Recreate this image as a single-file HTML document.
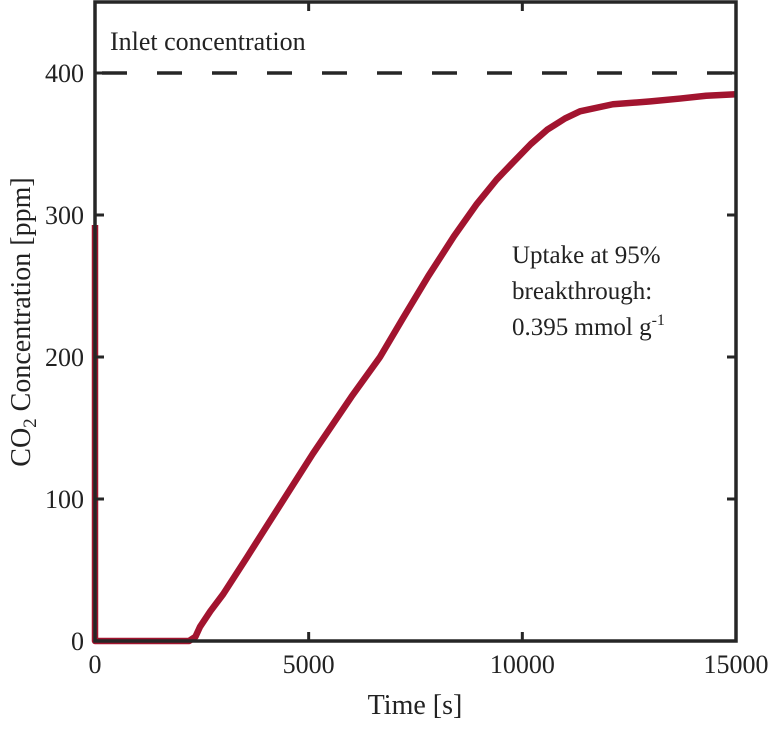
<!DOCTYPE html>
<html><head><meta charset="utf-8"><style>
body{margin:0;background:#fff}
svg text{font-family:"Liberation Serif",serif;fill:#222}
</style></head><body>
<svg width="773" height="726">
<g id="plot"></g>
</svg>
<script>
const times=[0,0,10,2200,2350,2457,2700,3000,3557,4000,5100,6000,6670,7200,7800,8400,8940,9400,9780,10200,10580,11000,11350,12120,13000,13690,14300,15000];
const ppm=[293,0,0,0,3,10,21,33,59,80,132,172,200,227,257,285,308,325,337,350,360,368,373,378,380,382,384,385];
const xTicks=[0,5000,10000,15000];
const yTicks=[0,100,200,300,400];
const inletValue=400;
const L=95,R=736,T=2,B=641;
const xs=v=>L+(v/15000)*(R-L);
const ys=v=>B-(v/450)*(B-T);
const g=document.getElementById('plot');
const NS='http://www.w3.org/2000/svg';
function mk(t,a){const e=document.createElementNS(NS,t);for(const k in a)e.setAttribute(k,a[k]);g.appendChild(e);return e;}
const d=mk('line',{x1:L,x2:R,y1:ys(inletValue),y2:ys(inletValue),stroke:'#262626','stroke-width':3.5,'stroke-dasharray':'25 30','stroke-dashoffset':-7});


const t1=mk('text',{x:110,y:50,'font-size':26});t1.textContent='Inlet concentration';


const p=mk('polyline',{points:times.map((t,i)=>xs(t)+','+ys(ppm[i])).join(' '),fill:'none',stroke:'#a2142f','stroke-width':6.5,'stroke-linejoin':'round'});


const box=mk('rect',{x:L,y:T,width:R-L,height:B-T,fill:'none',stroke:'#262626','stroke-width':3.5});


xTicks.forEach(v=>{
 mk('line',{x1:xs(v),x2:xs(v),y1:B,y2:B-9,stroke:'#262626','stroke-width':3});
 mk('line',{x1:xs(v),x2:xs(v),y1:T,y2:T+9,stroke:'#262626','stroke-width':3});
 const t=mk('text',{x:xs(v),y:673,'font-size':26,'text-anchor':'middle'});t.textContent=v;
 
 
});
yTicks.forEach(v=>{
 mk('line',{x1:L,x2:L+9,y1:ys(v),y2:ys(v),stroke:'#262626','stroke-width':3});
 mk('line',{x1:R,x2:R-9,y1:ys(v),y2:ys(v),stroke:'#262626','stroke-width':3});
 const t=mk('text',{x:84,y:ys(v)+9,'font-size':26,'text-anchor':'end'});t.textContent=v;
 
 
});
const xt=mk('text',{x:415,y:714,'font-size':28,'text-anchor':'middle'});xt.textContent='Time [s]';


const yt=mk('text',{x:0,y:0,'font-size':28,'text-anchor':'middle',transform:'translate(30,322) rotate(-90)'});
yt.innerHTML='CO<tspan font-size="19" dy="6">2</tspan><tspan dy="-6"> Concentration [ppm]</tspan>';


const ann=mk('text',{x:512,y:263,'font-size':25});
ann.innerHTML='<tspan x="512">Uptake at 95%</tspan><tspan x="512" dy="36">breakthrough:</tspan><tspan x="512" dy="36">0.395 mmol g</tspan><tspan font-size="16" dy="-10">-1</tspan>';


</script>
</body></html>
